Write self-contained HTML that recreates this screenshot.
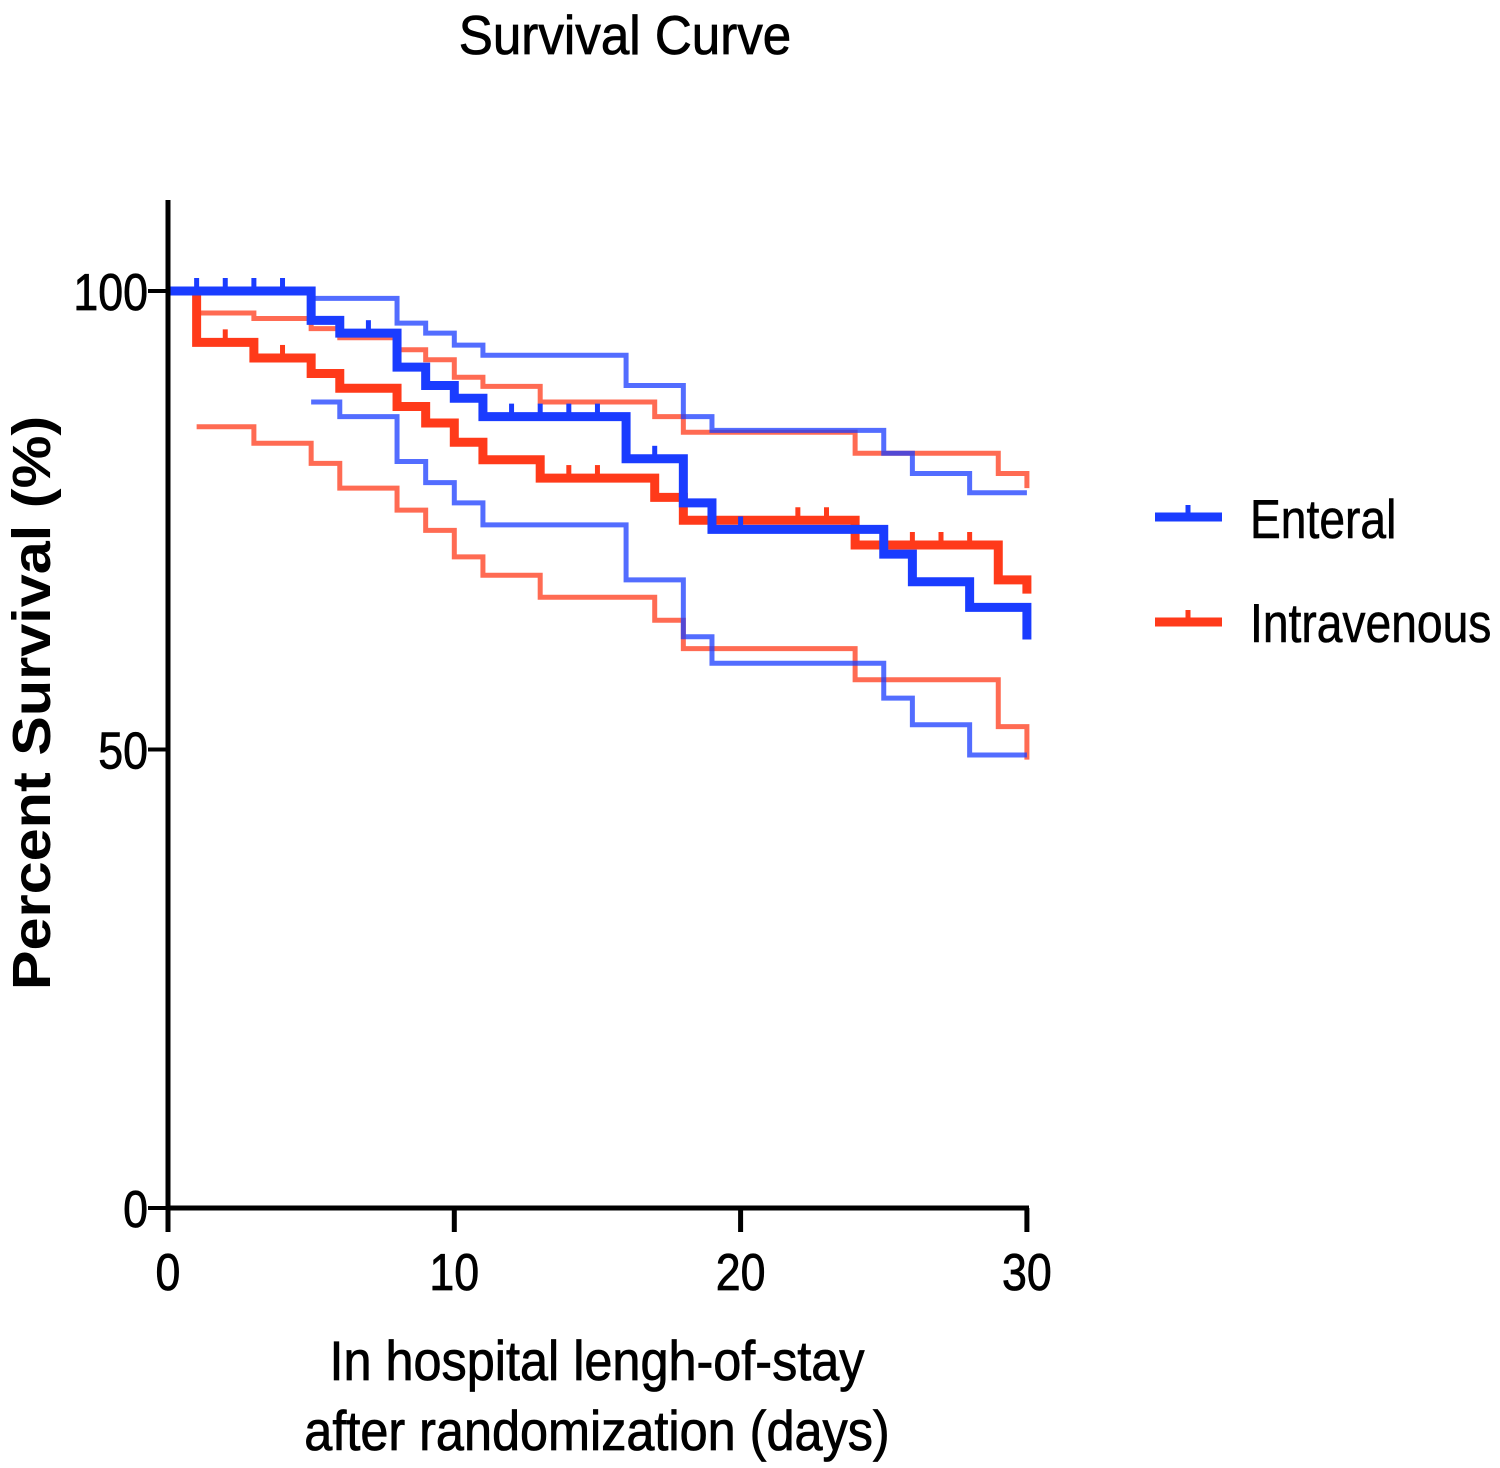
<!DOCTYPE html>
<html><head><meta charset="utf-8"><style>
html,body{margin:0;padding:0;background:#fff;}
svg{display:block;font-family:"Liberation Sans",sans-serif;}
</style></head><body>
<svg id="chart" width="1500" height="1468" viewBox="0 0 1500 1468">
<text x="625" y="54" text-anchor="middle" font-size="55" stroke="#000" stroke-width="0.8" transform="translate(625 0) scale(0.93 1) translate(-625 0)">Survival  Curve</text>
<g id="plot"></g>
<g id="axes"></g>
<text x="0" y="0" font-size="54" font-weight="bold" text-anchor="middle" transform="translate(50 703) rotate(-90) scale(1.1 1)">Percent Survival (%)</text>
<g font-size="56" text-anchor="middle" stroke="#000" stroke-width="0.8">
<text x="597" y="1380" transform="translate(597 0) scale(0.9 1) translate(-597 0)">In hospital lengh-of-stay</text>
<text x="597" y="1450" transform="translate(597 0) scale(0.9 1) translate(-597 0)">after randomization (days)</text>
</g>
<g stroke-width="0.6">
<g>
<line x1="1155" y1="517" x2="1222" y2="517" stroke="#1a3cff" stroke-width="9"/>
<line x1="1188" y1="505" x2="1188" y2="517" stroke="#1a3cff" stroke-width="5"/>
<text x="1250" y="538" font-size="55" stroke="#000" stroke-width="0.6" transform="translate(1250 0) scale(0.84 1) translate(-1250 0)">Enteral</text>
</g>
<g>
<line x1="1155" y1="622" x2="1222" y2="622" stroke="#ff3a1a" stroke-width="9"/>
<line x1="1188" y1="610" x2="1188" y2="622" stroke="#ff3a1a" stroke-width="5"/>
<text x="1250" y="642" font-size="55" stroke="#000" stroke-width="0.6" transform="translate(1250 0) scale(0.84 1) translate(-1250 0)">Intravenous</text>
</g>
</g>
</svg>
<script>
const xTicks = [0, 10, 20, 30];
const yTicks = [0, 50, 100];
const enteralDays = [0, 5, 6, 8, 9, 10, 11, 16, 18, 19, 25, 26, 28, 30];
const enteralSurv = [100, 96.8, 95.4, 91.7, 89.7, 88.3, 86.3, 81.7, 76.9, 74, 71.3, 68.3, 65.5, 62];
const enteralUpperDays = [0, 5, 8, 9, 10, 11, 16, 18, 19, 25, 26, 28, 30];
const enteralUpper = [100, 99.2, 96.5, 95.4, 94.1, 93, 89.7, 86.3, 84.8, 82.3, 80.1, 78, 78];
const enteralLowerDays = [5, 6, 8, 9, 10, 11, 16, 18, 19, 25, 26, 28, 30];
const enteralLower = [87.9, 86.3, 81.4, 79.1, 76.9, 74.5, 68.5, 62.3, 59.4, 55.6, 52.7, 49.4, 49.4];
const enteralCensor = [1, 2, 3, 4, 7, 12, 13, 14, 15, 17, 20];
const ivDays = [0, 1, 3, 5, 6, 8, 9, 10, 11, 13, 17, 18, 24, 29, 30];
const ivSurv = [100, 94.4, 92.7, 91, 89.4, 87.4, 85.6, 83.5, 81.6, 79.6, 77.5, 75, 72.3, 68.5, 67];
const ivUpperDays = [0, 1, 3, 5, 6, 8, 9, 10, 11, 13, 17, 18, 24, 29, 30];
const ivUpper = [100, 97.6, 97, 95.9, 94.9, 93.6, 92.5, 90.6, 89.6, 87.9, 86.3, 84.6, 82.3, 80.1, 78.5];
const ivLowerDays = [1, 3, 5, 6, 8, 9, 10, 11, 13, 17, 18, 24, 29, 30];
const ivLower = [85.2, 83.4, 81.2, 78.5, 76.1, 73.9, 71, 69, 66.6, 64.1, 61, 57.6, 52.5, 48.9];
const ivCensor = [2, 4, 14, 15, 22, 23, 26, 27, 28];

const NS = "http://www.w3.org/2000/svg";
const X = d => 168 + d * 28.63;
const Y = v => 1208 - v * 9.17;
const plot = document.getElementById('plot');
const axes = document.getElementById('axes');

function stepPath(days, vals) {
  let d = 'M' + X(days[0]) + ' ' + Y(vals[0]);
  for (let i = 1; i < days.length; i++) {
    d += ' H' + X(days[i]) + ' V' + Y(vals[i]);
  }
  return d;
}
function valueAt(days, vals, t) {
  let v = vals[0];
  for (let i = 0; i < days.length; i++) if (days[i] <= t) v = vals[i];
  return v;
}
function addStep(days, vals, color, w, op, name) {
  const p = document.createElementNS(NS, 'path');
  p.setAttribute('d', stepPath(days, vals));
  p.setAttribute('fill', 'none');
  p.setAttribute('stroke', color);
  p.setAttribute('stroke-width', w);
  p.setAttribute('stroke-opacity', op);
  
  
  plot.appendChild(p);
}
function addCensor(days, vals, marks, color, name) {
  marks.forEach(t => {
    const v = valueAt(days, vals, t);
    const l = document.createElementNS(NS, 'line');
    l.setAttribute('x1', X(t)); l.setAttribute('x2', X(t));
    l.setAttribute('y1', Y(v) - 13); l.setAttribute('y2', Y(v));
    l.setAttribute('stroke', color); l.setAttribute('stroke-width', 5);
    
    
    plot.appendChild(l);
  });
}
const BLUE = '#1a3cff', RED = '#ff3a1a';
addStep(ivUpperDays, ivUpper, RED, 5, 0.75, 'intravenous-upper-ci');
addStep(ivLowerDays, ivLower, RED, 5, 0.75, 'intravenous-lower-ci');
addStep(enteralUpperDays, enteralUpper, BLUE, 5, 0.75, 'enteral-upper-ci');
addStep(enteralLowerDays, enteralLower, BLUE, 5, 0.75, 'enteral-lower-ci');
addStep(ivDays, ivSurv, RED, 9, 1, 'intravenous-survival-line');
addStep(enteralDays, enteralSurv, BLUE, 9, 1, 'enteral-survival-line');
addCensor(ivDays, ivSurv, ivCensor, RED, 'intravenous-censor-tick');
addCensor(enteralDays, enteralSurv, enteralCensor, BLUE, 'enteral-censor-tick');

function line(x1, y1, x2, y2, w, name) {
  const l = document.createElementNS(NS, 'line');
  l.setAttribute('x1', x1); l.setAttribute('y1', y1);
  l.setAttribute('x2', x2); l.setAttribute('y2', y2);
  l.setAttribute('stroke', '#000'); l.setAttribute('stroke-width', w);
  
  
  axes.appendChild(l);
}
function text(x, y, s, anchor, name) {
  const t = document.createElementNS(NS, 'text');
  t.setAttribute('x', x); t.setAttribute('y', y);
  t.setAttribute('text-anchor', anchor);
  t.setAttribute('font-size', 52);
  t.setAttribute('stroke', '#000');
  t.setAttribute('stroke-width', 0.8);
  t.setAttribute('transform', `translate(${x} 0) scale(0.86 1) translate(${-x} 0)`);
  t.textContent = s;
  
  
  axes.appendChild(t);
}
line(168, 200, 168, 1210, 5, 'y-axis-line');
line(166, 1208, 1029, 1208, 5, 'x-axis-line');
yTicks.forEach(v => {
  line(148, Y(v), 168, Y(v), 4, 'y-tick');
  text(148, Y(v) + 19, String(v), 'end', 'y-tick-label');
});
xTicks.forEach(d => {
  line(X(d), 1208, X(d), 1232, 5, 'x-tick');
  text(X(d), 1290, String(d), 'middle', 'x-tick-label');
});
</script>
</body></html>
